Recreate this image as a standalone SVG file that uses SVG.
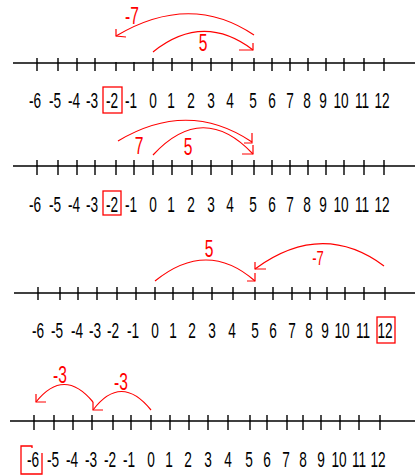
<svg xmlns="http://www.w3.org/2000/svg" width="415" height="476" viewBox="0 0 415 476">
<style>
.axis{stroke:#000;stroke-width:1.6;fill:none}
.tick{stroke:#000;stroke-width:1.4}
.num{font-family:"Liberation Sans",Arial,sans-serif;font-size:22px;fill:#000;text-anchor:middle}
.arc{stroke:#ff0000;stroke-width:1.2;fill:none}
.box{stroke:#ff0000;stroke-width:1.3;fill:none}
.rl{font-family:"Liberation Sans",Arial,sans-serif;font-size:24px;fill:#ff0000;text-anchor:middle}
</style>
<rect width="415" height="476" fill="#fff"/>

<g id="line1">
<line class="axis" x1="13" y1="63" x2="415" y2="63"/>
<path class="tick" d="M37,58V71M58,58V71M77,58V71M95,58V71M116,62V71M134,62V71M153,58V71M172,58V71M192,58V71M211,58V71M232,58V71M254,58V71M272,58V71M290,58V71M308,58V71M326,58V71M344,58V71M364,58V71M384,58V71"/>
<g class="num">
<text transform="translate(35,108) scale(0.62,1)">-6</text>
<text transform="translate(55,108) scale(0.62,1)">-5</text>
<text transform="translate(74,108) scale(0.62,1)">-4</text>
<text transform="translate(92,108) scale(0.62,1)">-3</text>
<text transform="translate(112,108) scale(0.62,1)">-2</text>
<text transform="translate(131,108) scale(0.62,1)">-1</text>
<text transform="translate(153,108) scale(0.62,1)">0</text>
<text transform="translate(171,108) scale(0.62,1)">1</text>
<text transform="translate(191,108) scale(0.62,1)">2</text>
<text transform="translate(211,108) scale(0.62,1)">3</text>
<text transform="translate(230,108) scale(0.62,1)">4</text>
<text transform="translate(253,108) scale(0.62,1)">5</text>
<text transform="translate(272,108) scale(0.62,1)">6</text>
<text transform="translate(290,108) scale(0.62,1)">7</text>
<text transform="translate(307,108) scale(0.62,1)">8</text>
<text transform="translate(323,108) scale(0.62,1)">9</text>
<text transform="translate(341,108) scale(0.62,1)">10</text>
<text transform="translate(362,108) scale(0.62,1)">11</text>
<text transform="translate(382,108) scale(0.62,1)">12</text>
</g>
<rect class="box" x="103" y="87" width="19" height="26"/>
</g>

<g id="line2">
<line class="axis" x1="13" y1="166" x2="415" y2="166"/>
<path class="tick" d="M37,160V175M58,160V175M77,160V175M95,160V175M116,160V175M134,160V175M153,160V175M172,160V175M192,160V175M211,160V175M232,160V175M254,160V175M272,160V175M290,160V175M308,160V175M326,160V175M344,160V175M364,160V175M384,160V175"/>
<g class="num">
<text transform="translate(35,212) scale(0.62,1)">-6</text>
<text transform="translate(55,212) scale(0.62,1)">-5</text>
<text transform="translate(74,212) scale(0.62,1)">-4</text>
<text transform="translate(92,212) scale(0.62,1)">-3</text>
<text transform="translate(112,212) scale(0.62,1)">-2</text>
<text transform="translate(131,212) scale(0.62,1)">-1</text>
<text transform="translate(153,212) scale(0.62,1)">0</text>
<text transform="translate(171,212) scale(0.62,1)">1</text>
<text transform="translate(191,212) scale(0.62,1)">2</text>
<text transform="translate(211,212) scale(0.62,1)">3</text>
<text transform="translate(230,212) scale(0.62,1)">4</text>
<text transform="translate(253,212) scale(0.62,1)">5</text>
<text transform="translate(272,212) scale(0.62,1)">6</text>
<text transform="translate(290,212) scale(0.62,1)">7</text>
<text transform="translate(307,212) scale(0.62,1)">8</text>
<text transform="translate(323,212) scale(0.62,1)">9</text>
<text transform="translate(341,212) scale(0.62,1)">10</text>
<text transform="translate(362,212) scale(0.62,1)">11</text>
<text transform="translate(382,212) scale(0.62,1)">12</text>
</g>
<rect class="box" x="103" y="191" width="18" height="24"/>
</g>

<g id="line3">
<line class="axis" x1="14" y1="293" x2="415" y2="293"/>
<path class="tick" d="M38,287V300M60,287V300M78,287V300M97,287V300M117,287V300M136,287V300M155,287V300M173,287V300M193,287V300M212,287V300M233,287V300M255,287V300M273,287V300M292,287V300M310,287V300M327,287V300M345,287V300M364,287V300M385,287V300"/>
<g class="num">
<text transform="translate(38,338) scale(0.62,1)">-6</text>
<text transform="translate(57,338) scale(0.62,1)">-5</text>
<text transform="translate(77,338) scale(0.62,1)">-4</text>
<text transform="translate(95,338) scale(0.62,1)">-3</text>
<text transform="translate(113,338) scale(0.62,1)">-2</text>
<text transform="translate(133,338) scale(0.62,1)">-1</text>
<text transform="translate(155,338) scale(0.62,1)">0</text>
<text transform="translate(173,338) scale(0.62,1)">1</text>
<text transform="translate(192,338) scale(0.62,1)">2</text>
<text transform="translate(212,338) scale(0.62,1)">3</text>
<text transform="translate(232,338) scale(0.62,1)">4</text>
<text transform="translate(255,338) scale(0.62,1)">5</text>
<text transform="translate(273,338) scale(0.62,1)">6</text>
<text transform="translate(292,338) scale(0.62,1)">7</text>
<text transform="translate(309,338) scale(0.62,1)">8</text>
<text transform="translate(325,338) scale(0.62,1)">9</text>
<text transform="translate(342,338) scale(0.62,1)">10</text>
<text transform="translate(363,338) scale(0.62,1)">11</text>
<text transform="translate(385,338) scale(0.62,1)">12</text>
</g>
<rect class="box" x="377" y="317" width="18" height="26"/>
</g>

<g id="line4">
<line class="axis" x1="10" y1="421" x2="415" y2="421"/>
<path class="tick" d="M34,415V430M54,415V430M73,415V430M92,415V430M113,415V430M131,415V430M151,415V430M170,415V430M189,415V430M208,415V430M228,415V430M250,415V430M267,415V430M287,415V430M303,415V430M321,415V430M340,415V430M359,415V430M380,415V430"/>
<g class="num">
<text transform="translate(33,467) scale(0.62,1)">-6</text>
<text transform="translate(53,467) scale(0.62,1)">-5</text>
<text transform="translate(72,467) scale(0.62,1)">-4</text>
<text transform="translate(91,467) scale(0.62,1)">-3</text>
<text transform="translate(110,467) scale(0.62,1)">-2</text>
<text transform="translate(129,467) scale(0.62,1)">-1</text>
<text transform="translate(151,467) scale(0.62,1)">0</text>
<text transform="translate(169,467) scale(0.62,1)">1</text>
<text transform="translate(188,467) scale(0.62,1)">2</text>
<text transform="translate(208,467) scale(0.62,1)">3</text>
<text transform="translate(228,467) scale(0.62,1)">4</text>
<text transform="translate(249,467) scale(0.62,1)">5</text>
<text transform="translate(267,467) scale(0.62,1)">6</text>
<text transform="translate(286,467) scale(0.62,1)">7</text>
<text transform="translate(303,467) scale(0.62,1)">8</text>
<text transform="translate(321,467) scale(0.62,1)">9</text>
<text transform="translate(339,467) scale(0.62,1)">10</text>
<text transform="translate(359,467) scale(0.62,1)">11</text>
<text transform="translate(378,467) scale(0.62,1)">12</text>
</g>
<path class="box" d="M32,448V446H21V474H42V453"/>
</g>

<g id="connectors">
<path class="arc" d="M116,36 Q190,-8 254,35"/>
<path class="arc" d="M116,29 L116,36 L126,37"/>
<path class="arc" d="M153,52 Q203,12 253,50"/>
<path class="arc" d="M239,50 L253,50 L253,43"/>
<path class="arc" d="M118,141 Q188,99 252,142"/>
<path class="arc" d="M252,133 L252,143 L244,143"/>
<path class="arc" d="M153,155 Q203,101 253,154"/>
<path class="arc" d="M253,145 L253,154 L242,154"/>
<path class="arc" d="M155,281 Q207,239 255,281"/>
<path class="arc" d="M247,281 L255,281 L255,273"/>
<path class="arc" d="M384,266 Q322,220 255,269"/>
<path class="arc" d="M255,262 L255,269 L266,269"/>
<path class="arc" d="M151,410 Q121,373 93,410"/>
<path class="arc" d="M93,402 L93,410 L103,410"/>
<path class="arc" d="M93,402 Q64,367 36,402"/>
<path class="arc" d="M36,394 L36,402 L46,402"/>
</g>

<g id="labels">
<text class="rl" transform="translate(132,24) scale(0.65,1)">-7</text>
<text class="rl" transform="translate(203,51) scale(0.65,1)">5</text>
<text class="rl" transform="translate(139,154) scale(0.65,1)">7</text>
<text class="rl" transform="translate(188,155) scale(0.65,1)">5</text>
<text class="rl" transform="translate(209,257) scale(0.65,1)">5</text>
<text class="rl" style="font-size:20px" transform="translate(318,265) scale(0.65,1)">-7</text>
<text class="rl" transform="translate(60,383) scale(0.65,1)">-3</text>
<text class="rl" transform="translate(121,390) scale(0.65,1)">-3</text>
</g>
</svg>
